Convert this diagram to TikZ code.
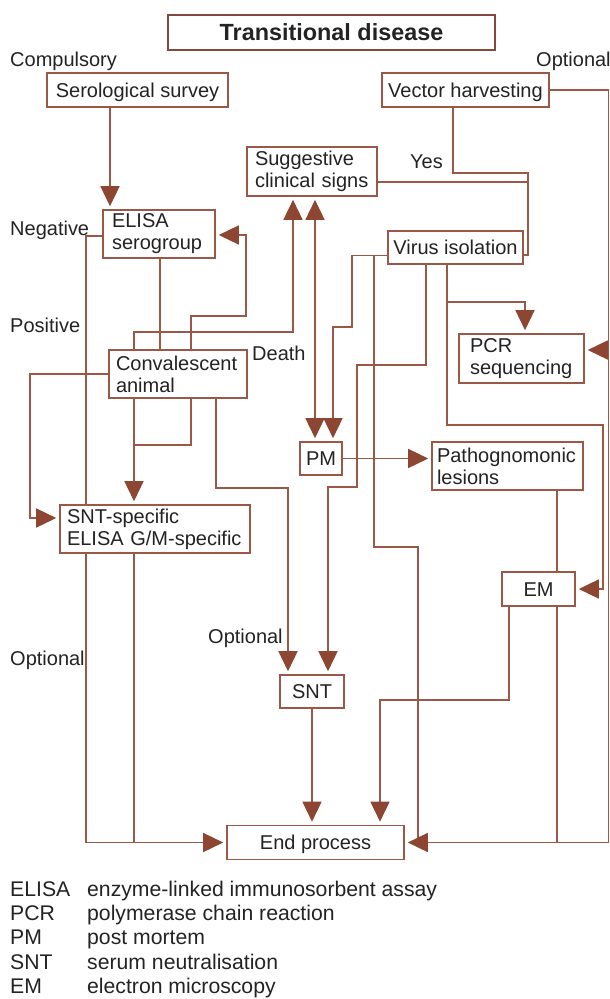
\documentclass[tikz,border=0pt]{standalone}
\usepackage{fontspec}
\setmainfont{Liberation Sans}
\usetikzlibrary{arrows.meta,backgrounds}
\definecolor{brn}{RGB}{155,88,70}
\definecolor{arrc}{RGB}{140,70,50}
\definecolor{txt}{RGB}{35,35,35}
\begin{document}
\begin{tikzpicture}[x=1pt,y=-1pt,
  font=\fontsize{20}{22}\selectfont, text=txt,
  bx/.style={draw=brn, line width=1.6pt, fill=white, inner sep=0pt},
  one/.style={text height=14.3pt, text depth=0pt},
  two/.style={align=left, minimum height=48pt},
  ln/.style={draw=brn, line width=1.5pt},
  tip/.tip={Triangle[length=20pt,width=19pt,color=arrc]},
  arr/.style={ln, -tip, shorten >=3pt},
  lbl/.style={anchor=base west, inner sep=0pt},
  leg/.style={anchor=base west, inner sep=0pt, font=\fontsize{21.2}{24}\selectfont}]
\useasboundingbox (0,0) rectangle (610,999);

% boxes
\node[bx, draw=brn!85!black, line width=2.8pt, minimum width=327pt, minimum height=35pt,
      font=\fontsize{23.4}{26}\selectfont\bfseries] (title) at (331.5,32.5) {Transitional disease};
\node[bx, one, minimum width=181pt, minimum height=34pt] (sero) at (137.5,90) {Serological survey};
\node[bx, one, minimum width=167pt, minimum height=34pt] (vect) at (465.5,90) {Vector harvesting};
\node[bx, two, minimum height=49pt, inner xsep=8pt, text width=114pt] (sugg) at (312,171.5) {Suggestive\\clinical signs};
\node[bx, two, inner xsep=9pt, text width=94pt] (elisa) at (159,234) {ELISA\\serogroup};
\node[bx, one, minimum width=135pt, minimum height=33pt] (virus) at (455.5,247.5) {Virus isolation};
\node[bx, two, inner xsep=7pt, text width=124pt] (conv) at (178,374) {Convalescent\\animal};
\node[bx, two, minimum height=49pt, inner xsep=11pt, text width=103pt] (pcr) at (521.5,358.5) {PCR\\sequencing};
\node[bx, one, minimum width=42pt, minimum height=33pt] (pm) at (321,458.5) {PM};
\node[bx, two, inner xsep=5pt, text width=141pt] (patho) at (507.5,466) {Pathognomonic\\lesions};
\node[bx, two, inner xsep=7pt, text width=176pt] (sntspec) at (155,529) {SNT-specific\\ELISA G/M-specific};
\node[bx, one, minimum width=73pt, minimum height=34pt] (em) at (538.5,589) {EM};
\node[bx, one, minimum width=64pt, minimum height=33pt] (snt) at (312,691.5) {SNT};
\node[bx, one, minimum width=177pt, minimum height=34pt] (end) at (315.5,842.5) {End process};

% labels
\node[lbl] (l1) at (10,66) {Compulsory};
\node[lbl] (l2) at (536,66) {Optional};
\node[lbl] (l3) at (10,235) {Negative};
\node[lbl] (l4) at (10,332) {Positive};
\node[lbl] (l5) at (252,360) {Death};
\node[lbl] (l6) at (410,168) {Yes};
\node[lbl] (l7) at (10,665) {Optional};
\node[lbl] (l8) at (208,643) {Optional};

% legend
\node[leg] (a1) at (10,896) {ELISA};
\node[leg] (b1) at (87,896) {enzyme-linked immunosorbent assay};
\node[leg] (a2) at (10,920) {PCR};
\node[leg] (b2) at (87,920) {polymerase chain reaction};
\node[leg] (a3) at (10,944) {PM};
\node[leg] (b3) at (87,944) {post mortem};
\node[leg] (a4) at (10,969) {SNT};
\node[leg] (b4) at (87,969) {serum neutralisation};
\node[leg] (a5) at (10,993) {EM};
\node[leg] (b5) at (87,993) {electron microscopy};

\begin{pgfonlayer}{background}
% serological -> ELISA
\draw[arr] ([xshift=-27.5pt]sero.south) -- ([xshift=-49pt]elisa.north);
% negative -> end
\draw[arr] ([yshift=-2pt]elisa.west) -| (86,842.5) -- (end.west);
% positive -> convalescent
\draw[ln] ([xshift=1pt]elisa.south) -- ([xshift=-18pt]conv.north);
% convalescent -> ELISA
\draw[arr] ([xshift=13pt]conv.north) -- ++(0,-33) -| (246,235) -- ([yshift=-1pt]elisa.east);
% convalescent -> suggestive
\draw[arr] ([xshift=-44pt]conv.north) -- ++(0,-17) -| ([xshift=-19pt]sugg.south);
% suggestive <-> PM
\draw[ln, tip-tip, shorten >=3pt, shorten <=3pt]
  ([xshift=3pt]sugg.south) -- ([xshift=-6pt]pm.north);
% virus -> PM
\draw[arr] ([yshift=-8pt]virus.west) -| (352,327) -| ([xshift=12pt]pm.north);
% virus -> end (via 374/418)
\draw[ln] (374,255.5) |- (418,547) -- (418,842.5);
% virus -> SNT
\draw[arr] ([xshift=-29.5pt]virus.south) |- (357,365) |- (328,487) -- ([xshift=16pt]snt.north);
% virus -> PCR and EM
\draw[arr] ([xshift=-8.5pt]virus.south) -- (447,302) -| ([xshift=3.5pt]pcr.north);
\draw[arr] (447,302) |- (603,425) |- (em.east);
% vector harvesting -> right edge -> end, PCR
\draw[arr] (vect.east) -- (608.5,90) -- (608.5,842.5) -- (end.east);
\draw[arr] (608.5,350) -- ([yshift=8.5pt]pcr.east);
% vector harvesting -> virus isolation
\draw[ln] ([xshift=-12.5pt]vect.south) |- (528,173) |- ([yshift=-7.5pt]virus.east);
\draw[ln] ([yshift=-10.5pt]sugg.east) -- (528,182);
% convalescent -> SNT-specific
\draw[arr] (conv.west) -| (30,518) -- ([yshift=11pt]sntspec.west);
\draw[arr] ([xshift=-44pt]conv.south) -- ([xshift=-21pt]sntspec.north);
\draw[ln] ([xshift=13pt]conv.south) |- (134,445);
% convalescent -> SNT
\draw[arr] ([xshift=38pt]conv.south) |- (288,488) -- ([xshift=-24pt]snt.north);
% SNT-specific -> end line
\draw[ln] ([xshift=-21pt]sntspec.south) -- (134,842.5);
% PM -> pathognomonic
\draw[arr] (pm.east) -- (pm.east -| patho.west);
% pathognomonic -> end line
\draw[ln] ([xshift=49.5pt]patho.south) -- (557,842.5);
% EM -> end
\draw[arr] ([xshift=-29.5pt]em.south) |- (380,700) -- ([xshift=64.5pt]end.north);
% SNT -> end
\draw[arr] (snt.south) -- (snt.south |- end.north);
\end{pgfonlayer}
\end{tikzpicture}
\end{document}
